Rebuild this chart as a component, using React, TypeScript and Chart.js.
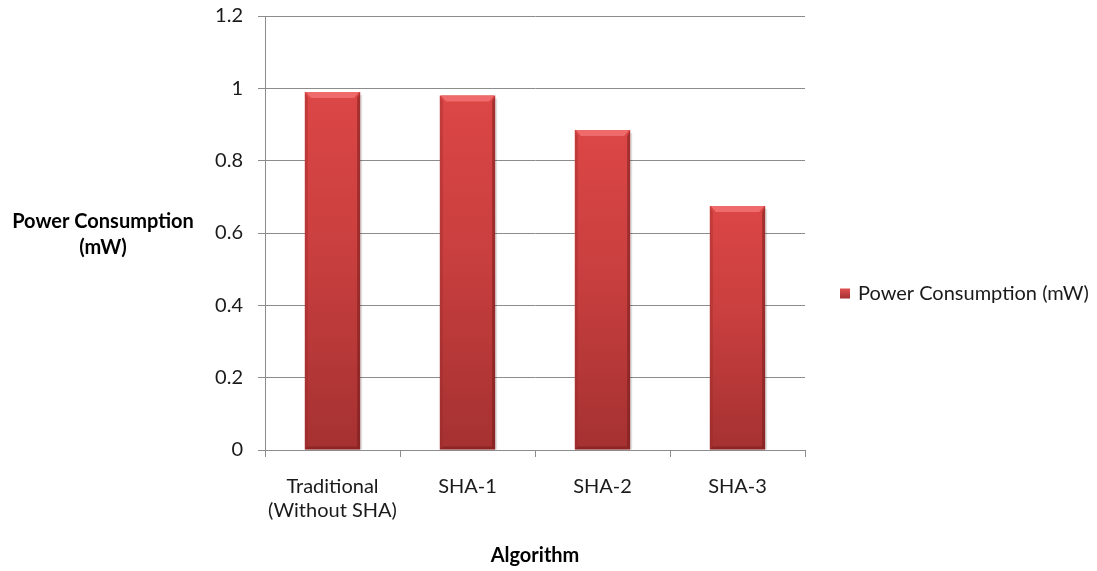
import React, { useEffect, useRef } from "react";
import { Chart, registerables } from "chart.js";

Chart.register(...registerables);

const categories: (string | string[])[] = [
  ["Traditional", "(Without SHA)"],
  "SHA-1",
  "SHA-2",
  "SHA-3",
];
const seriesLabel = "Power Consumption (mW)";
const powerValues = [0.99, 0.98, 0.885, 0.675];
const yTitleLines = ["Power Consumption", "(mW)"];
const xTitle = "Algorithm";

const FONT = "Lato, 'Open Sans', sans-serif";
const FONT_SIZE = 20;
const GRID = "#8c8c8c";
const TEXT = "#1a1a1a";

// Gradient per bar: brighter red at the top, deeper red near the base
function barFill(ctx: any) {
  const chart = ctx.chart;
  const y = chart.scales?.y;
  if (!y || ctx.type !== "data") return "#cc3f3f";
  const top = y.getPixelForValue(ctx.raw);
  const base = y.getPixelForValue(0);
  if (!isFinite(top) || !isFinite(base) || top === base) return "#cc3f3f";
  const g = chart.ctx.createLinearGradient(0, top, 0, base);
  g.addColorStop(0, "#dc4646");
  g.addColorStop(0.45, "#c93f3f");
  g.addColorStop(1, "#a53131");
  return g;
}

// Bevelled edges drawn over each bar element
const bevelPlugin = {
  id: "bevel",
  afterDatasetsDraw(chart: any) {
    const c = chart.ctx;
    const meta = chart.getDatasetMeta(0);
    meta.data.forEach((bar: any) => {
      const { x, y, base, width } = bar.getProps(["x", "y", "base", "width"], true);
      const l = x - width / 2;
      const r = x + width / 2;
      const b = 6;
      c.save();
      // top bevel
      c.fillStyle = "#ef6b6b";
      c.beginPath();
      c.moveTo(l + 1, y);
      c.lineTo(r - 1, y);
      c.lineTo(r - b, y + b);
      c.lineTo(l + b, y + b);
      c.closePath();
      c.fill();
      // left bevel
      c.fillStyle = "rgba(150,40,40,0.35)";
      c.beginPath();
      c.moveTo(l, y);
      c.lineTo(l + 3, y + b);
      c.lineTo(l + 3, base - 3);
      c.lineTo(l, base);
      c.closePath();
      c.fill();
      // right bevel
      c.fillStyle = "rgba(110,25,25,0.5)";
      c.beginPath();
      c.moveTo(r, y);
      c.lineTo(r - 3, y + b);
      c.lineTo(r - 3, base - 3);
      c.lineTo(r, base);
      c.closePath();
      c.fill();
      // bottom bevel
      c.fillStyle = "rgba(110,25,25,0.45)";
      c.beginPath();
      c.moveTo(l, base);
      c.lineTo(r, base);
      c.lineTo(r - 3, base - 3);
      c.lineTo(l + 3, base - 3);
      c.closePath();
      c.fill();
      // soft shadow on the right side
      c.fillStyle = "rgba(0,0,0,0.12)";
      c.fillRect(r, y + 3, 2, base - y - 3);
      c.restore();
    });
  },
};

// Horizontal y title on the left and the legend on the right
const sideTextPlugin = {
  id: "sideText",
  afterDraw(chart: any) {
    const c = chart.ctx;
    const area = chart.chartArea;
    c.save();
    c.fillStyle = "#000";
    c.font = `bold ${FONT_SIZE}px ${FONT}`;
    c.textAlign = "center";
    c.textBaseline = "middle";
    const cx = area.left - 162;
    const cy = (area.top + area.bottom) / 2 + 2;
    c.fillText(yTitleLines[0], cx, cy - 13);
    c.fillText(yTitleLines[1], cx, cy + 13);

    // legend
    const lx = area.right + 35;
    const ly = chart.height / 2 + 8;
    const g = c.createLinearGradient(0, ly - 5, 0, ly + 5);
    g.addColorStop(0, "#e05050");
    g.addColorStop(1, "#a53131");
    c.fillStyle = g;
    c.fillRect(lx, ly - 5, 10, 10);
    c.fillStyle = TEXT;
    c.font = `${FONT_SIZE}px ${FONT}`;
    c.textAlign = "left";
    c.fillText(seriesLabel, lx + 18, ly);
    c.restore();
  },
};

export default function App() {
  const ref = useRef<HTMLCanvasElement>(null);

  useEffect(() => {
    if (!ref.current) return;
    const chart = new Chart(ref.current, {
      type: "bar",
      data: {
        labels: categories,
        datasets: [
          {
            label: seriesLabel,
            data: powerValues,
            backgroundColor: barFill,
            borderWidth: 0,
            categoryPercentage: 1,
            barPercentage: 0.41,
          },
        ],
      },
      options: {
        animation: false,
        responsive: false,
        layout: { padding: { left: 200, right: 292, top: 16, bottom: 0 } },
        plugins: {
          legend: { display: false },
          tooltip: { enabled: false },
        },
        scales: {
          x: {
            grid: {
              offset: true,
              drawOnChartArea: false,
              drawTicks: true,
              tickLength: 7,
              color: GRID,
            },
            border: { color: GRID, width: 1 },
            ticks: {
              color: TEXT,
              font: { family: FONT, size: FONT_SIZE },
              padding: 18,
              maxRotation: 0,
            },
            title: {
              display: true,
              text: xTitle,
              color: "#000",
              font: { family: FONT, size: FONT_SIZE, weight: "bold" },
              padding: { top: 16, bottom: 3 },
            },
            afterFit: (s: any) => {
              s.height = 121;
              s.paddingLeft = 0;
              s.paddingRight = 0;
            },
          },
          y: {
            min: 0,
            max: 1.2,
            ticks: {
              stepSize: 0.2,
              color: TEXT,
              font: { family: FONT, size: FONT_SIZE },
              padding: 15,
              callback: (v: any) => String(Math.round(v * 10) / 10),
            },
            grid: { color: GRID, tickLength: 7, lineWidth: 1 },
            border: { color: GRID, width: 1 },
            afterFit: (s: any) => {
              s.width = 65;
              s.paddingTop = 0;
              s.paddingBottom = 0;
            },
          },
        },
      },
      plugins: [bevelPlugin, sideTextPlugin],
    });
    return () => chart.destroy();
  }, []);

  return (
    <div style={{ position: "fixed", left: 0, top: 0, width: 1097, height: 571, background: "#fff" }}>
      <canvas ref={ref} width={1097} height={571} />
    </div>
  );
}
